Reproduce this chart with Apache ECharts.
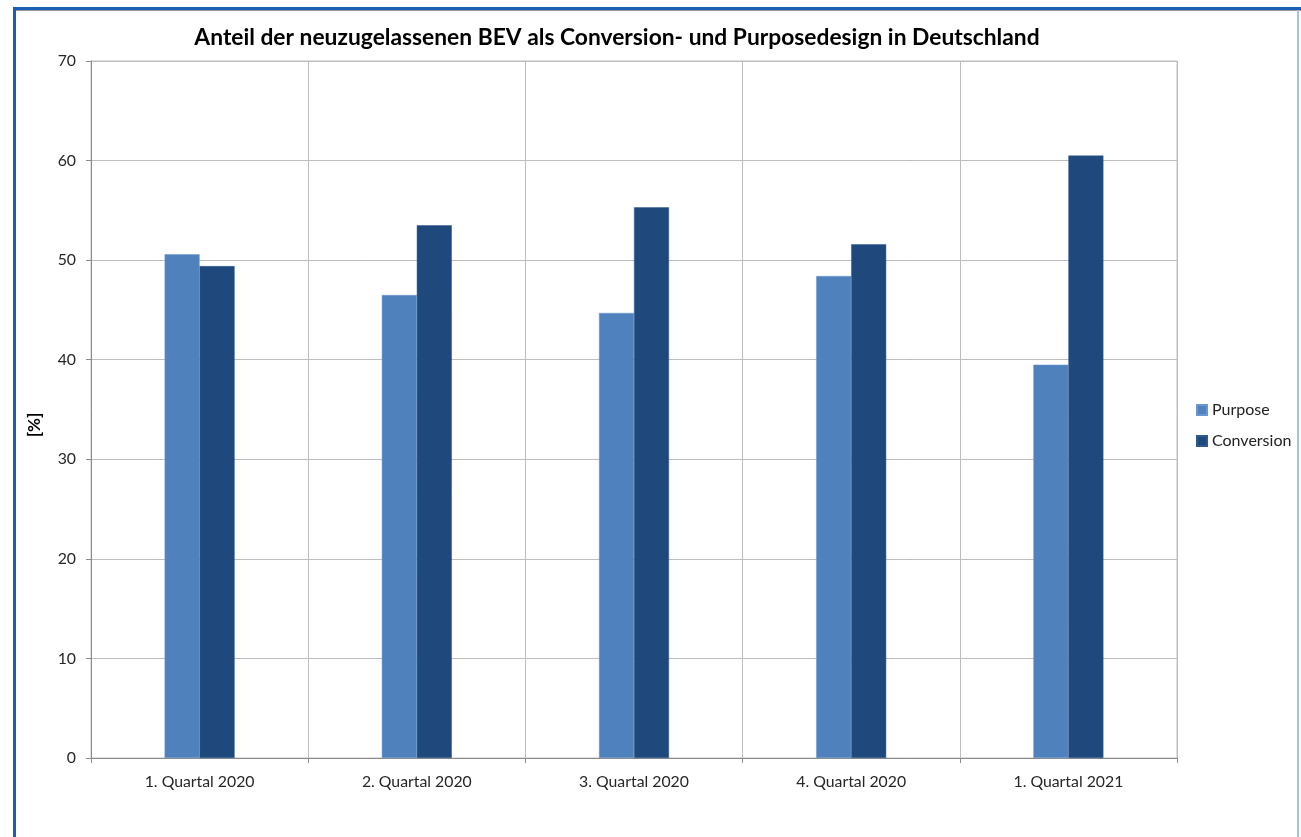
<!DOCTYPE html>
<html><head><meta charset="utf-8">
<script src="https://cdn.jsdelivr.net/npm/echarts@6/dist/echarts.min.js"></script>
<style>html,body{margin:0;padding:0;background:#fff}#c{width:1301px;height:837px}</style>
</head><body><div id="c"></div>
<script>
var categories = ['1. Quartal 2020','2. Quartal 2020','3. Quartal 2020','4. Quartal 2020','1. Quartal 2021'];
var purpose = [50.6, 46.5, 44.7, 48.4, 39.5];
var conversion = [49.4, 53.5, 55.3, 51.6, 60.5];
var seriesNames = ['Purpose','Conversion'];
var titleText = 'Anteil der neuzugelassenen BEV als Conversion- und Purposedesign in Deutschland';
var yAxisName = '[%]';

var font = 'Lato, "Open Sans", sans-serif';
var chart = echarts.init(document.getElementById('c'), null, {renderer:'canvas'});
chart.setOption({
  animation:false,
  backgroundColor:'#fff',
  title:{text:titleText,left:612,top:21,textAlign:'center',
    textStyle:{fontFamily:font,fontSize:22.8,fontWeight:'bold',color:'#000'}},
  legend:{orient:'vertical',left:1191,top:397,itemWidth:10,itemHeight:10,itemGap:15,
    icon:'rect',textStyle:{fontFamily:font,fontSize:16,color:'#222'},data:seriesNames},
  grid:{left:91,right:124,top:61,bottom:79,show:true,borderColor:'#c0c0c0',borderWidth:1},
  xAxis:{type:'category',data:categories,boundaryGap:true,
    axisLine:{lineStyle:{color:'#8c8c8c'}},
    axisTick:{show:true,length:5,lineStyle:{color:'#8c8c8c'}},
    axisLabel:{fontFamily:font,fontSize:15.8,color:'#262626',margin:16},
    splitLine:{show:true,lineStyle:{color:'#bdbdbd',width:1}}},
  yAxis:{type:'value',min:0,max:70,interval:10,
    axisLine:{show:true,lineStyle:{color:'#8c8c8c'}},
    axisTick:{show:true,length:5,lineStyle:{color:'#8c8c8c'}},
    axisLabel:{fontFamily:font,fontSize:15.8,color:'#262626',margin:15},
    splitLine:{show:true,lineStyle:{color:'#bdbdbd',width:1}}},
  series:[
    {name:seriesNames[0],type:'bar',data:purpose,barWidth:35,barGap:'0%',
      itemStyle:{color:'#4f81bd',borderColor:'#6b97cc',borderWidth:0.5}},
    {name:seriesNames[1],type:'bar',data:conversion,barWidth:35,barGap:'0%',
      itemStyle:{color:'#1f497d',borderColor:'#2f5a8f',borderWidth:0.5}}
  ],
  graphic:[
    {type:'rect',shape:{x:13,y:7,width:1300,height:3},style:{fill:'#1a5fb4'}},
    {type:'rect',shape:{x:16,y:10,width:1300,height:1},style:{fill:'#9a9a9a'}},
    {type:'rect',shape:{x:13,y:7,width:3,height:840},style:{fill:'#1a5fb4'}},
    {type:'rect',shape:{x:1297,y:10,width:2,height:840},style:{fill:'#9ec3e6'}},
    {type:'text',x:35,y:425,rotation:Math.PI/2,
      style:{text:yAxisName,font:'bold 17px Lato, sans-serif',fill:'#000',
        textAlign:'center',textVerticalAlign:'middle'}}
  ]
});
</script></body></html>
